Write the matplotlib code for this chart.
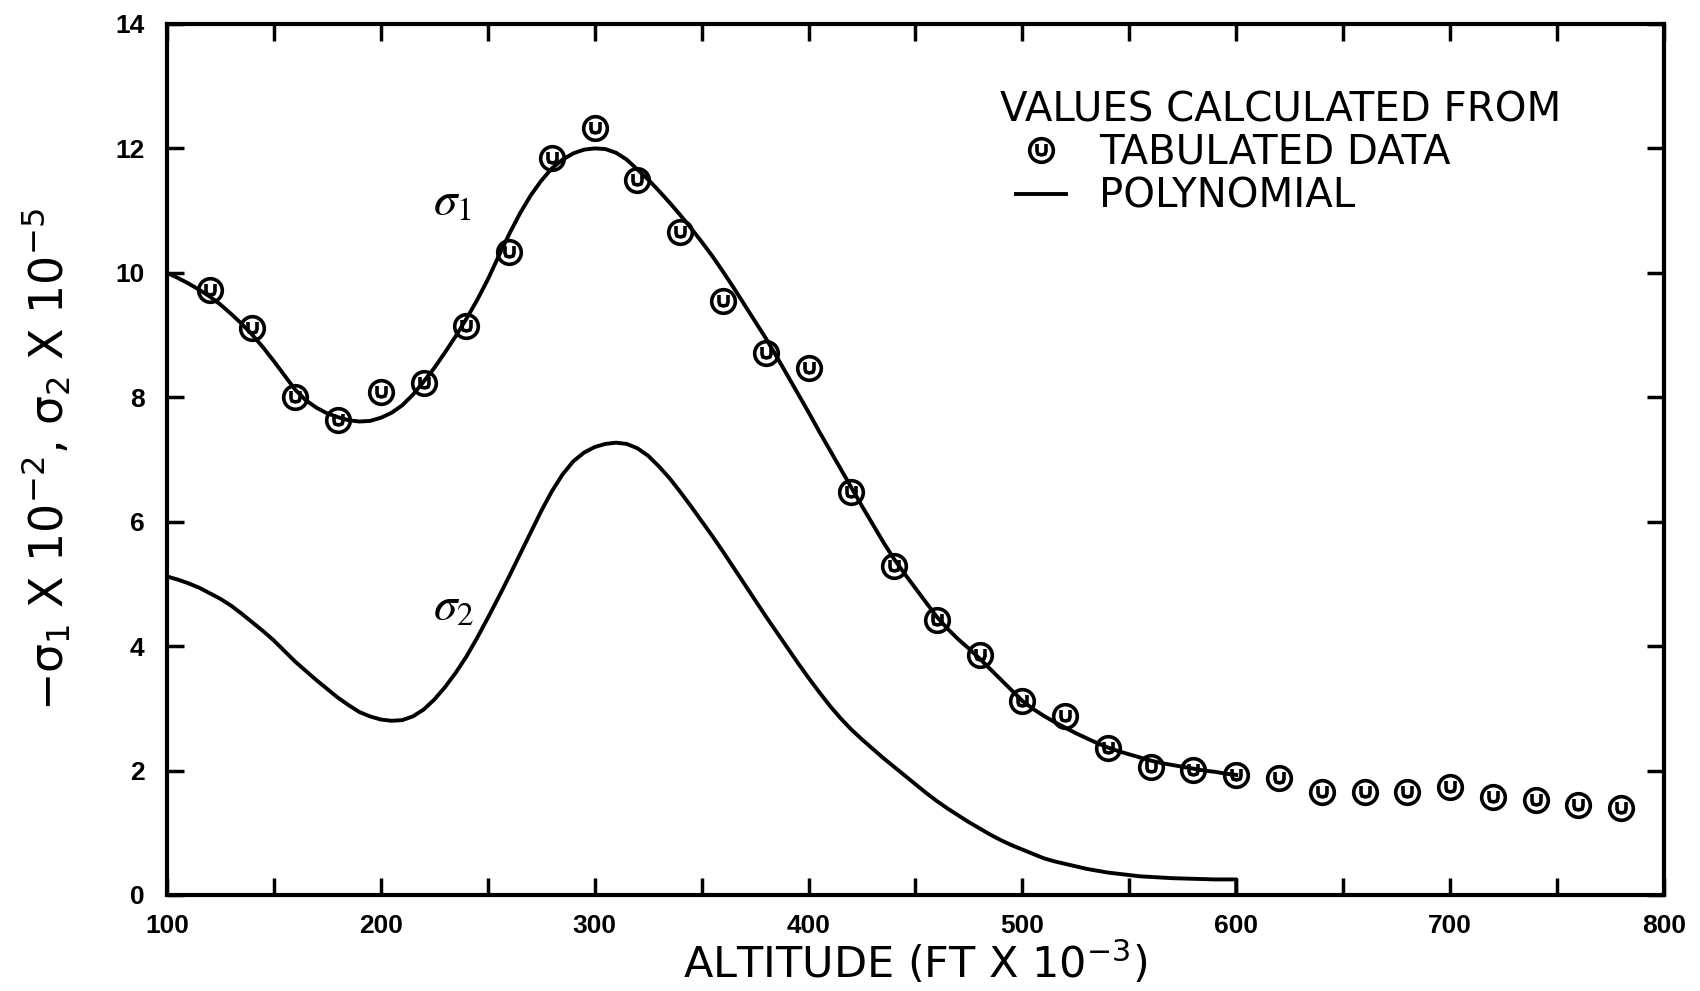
import matplotlib
matplotlib.use("Agg")
import matplotlib.pyplot as plt
from matplotlib.path import Path
from matplotlib.lines import Line2D
from matplotlib.ticker import MultipleLocator

plt.rcParams['font.family'] = ['DejaVu Sans']
plt.rcParams['mathtext.fontset'] = 'custom'
plt.rcParams['mathtext.rm'] = 'DejaVu Sans'
plt.rcParams['mathtext.it'] = 'DejaVu Sans'
plt.rcParams['mathtext.bf'] = 'DejaVu Sans:bold'

# Tabulated data (sigma_1), altitude in ft x 1e-3
tab_alt = [120, 140, 160, 180, 200, 220, 240, 260, 280, 300, 320, 340,
           360, 380, 400, 420, 440, 460, 480, 500, 520, 540, 560, 580,
           600, 620, 640, 660, 680, 700, 720, 740, 760, 780]
tab_sigma1 = [9.73, 9.11, 8.01, 7.64, 8.09, 8.23, 9.14, 10.34, 11.84, 12.33,
              11.50, 10.66, 9.54, 8.71, 8.47, 6.47, 5.28, 4.42, 3.86, 3.11,
              2.87, 2.36, 2.05, 2.01, 1.93, 1.88, 1.66, 1.66, 1.66, 1.73,
              1.58, 1.53, 1.45, 1.39]

# Polynomial curves, read every 5 units
poly_alt = [100, 105, 110, 115, 120, 125, 130, 135, 140, 145,
            150, 155, 160, 165, 170, 175, 180, 185, 190, 195,
            200, 205, 210, 215, 220, 225, 230, 235, 240, 245,
            250, 255, 260, 265, 270, 275, 280, 285, 290, 295,
            300, 305, 310, 315, 320, 325, 330, 335, 340, 345,
            350, 355, 360, 365, 370, 375, 380, 385, 390, 395,
            400, 405, 410, 415, 420, 425, 430, 435, 440, 445,
            450, 455, 460, 465, 470, 475, 480, 485, 490, 495,
            500, 505, 510, 515, 520, 525, 530, 535, 540, 545,
            550, 555, 560, 565, 570, 575, 580, 585, 590, 595, 600]
poly_sigma1 = [10.00, 9.92, 9.83, 9.73, 9.62, 9.49, 9.34, 9.18, 9.00, 8.80,
               8.58, 8.35, 8.12, 7.95, 7.83, 7.74, 7.68, 7.63, 7.61, 7.62,
               7.67, 7.75, 7.87, 8.04, 8.25, 8.47, 8.72, 8.98, 9.26, 9.56,
               9.89, 10.26, 10.62, 10.95, 11.24, 11.48, 11.68, 11.82, 11.92, 11.98,
               12.00, 11.99, 11.93, 11.82, 11.66, 11.50, 11.32, 11.13, 10.93, 10.72,
               10.50, 10.27, 10.02, 9.76, 9.49, 9.22, 8.95, 8.66, 8.36, 8.06,
               7.76, 7.45, 7.15, 6.85, 6.55, 6.25, 5.96, 5.67, 5.40, 5.16,
               4.93, 4.70, 4.47, 4.28, 4.11, 3.96, 3.80, 3.63, 3.46, 3.29,
               3.12, 2.99, 2.88, 2.78, 2.69, 2.60, 2.52, 2.44, 2.37, 2.31,
               2.26, 2.21, 2.16, 2.12, 2.09, 2.06, 2.03, 2.00, 1.98, 1.95, 1.93]
poly_sigma2 = [5.12, 5.07, 5.01, 4.94, 4.85, 4.76, 4.65, 4.52, 4.38, 4.24,
               4.09, 3.92, 3.75, 3.60, 3.45, 3.31, 3.17, 3.05, 2.94, 2.87,
               2.82, 2.80, 2.81, 2.87, 2.98, 3.14, 3.34, 3.57, 3.83, 4.13,
               4.45, 4.78, 5.12, 5.47, 5.82, 6.17, 6.49, 6.76, 6.97, 7.11,
               7.20, 7.25, 7.27, 7.25, 7.18, 7.06, 6.89, 6.70, 6.48, 6.25,
               6.01, 5.77, 5.52, 5.26, 5.00, 4.74, 4.48, 4.23, 3.98, 3.73,
               3.49, 3.26, 3.04, 2.84, 2.66, 2.50, 2.35, 2.20, 2.06, 1.92,
               1.78, 1.64, 1.51, 1.39, 1.28, 1.17, 1.07, 0.97, 0.88, 0.80,
               0.73, 0.66, 0.59, 0.54, 0.50, 0.46, 0.42, 0.39, 0.36, 0.34,
               0.32, 0.30, 0.29, 0.28, 0.27, 0.265, 0.26, 0.255, 0.25, 0.25, 0.25]
# sigma_2 curve drops to the axis at its last altitude
sigma2_end_alt = [600]
sigma2_end_val = [0.0]

x_ticks = [100, 200, 300, 400, 500, 600, 700, 800]
y_ticks = [0, 2, 4, 6, 8, 10, 12, 14]

# circle marker with a small "u" inside, like the plotter symbol
u_verts = [(-0.38, 0.55), (-0.38, -0.05), (-0.3, -0.3), (0.0, -0.38),
           (0.3, -0.3), (0.38, -0.05), (0.38, 0.55)]
u_path = Path(u_verts, [Path.MOVETO] + [Path.LINETO] * 6)
tab_marker = Path.make_compound_path(Path.unit_circle(), u_path)

fig = plt.figure(figsize=(17, 9.91), dpi=100)
ax = fig.add_axes([0.0982, 0.0969, 0.8806, 0.8789])

ax.plot(poly_alt, poly_sigma1, color='black', lw=2.8)
ax.plot(poly_alt + sigma2_end_alt, poly_sigma2 + sigma2_end_val,
        color='black', lw=2.8)
ax.plot(tab_alt, tab_sigma1, ls='none', marker=tab_marker, ms=17,
        mfc='none', mec='black', mew=2.6)

ax.set_xlim(100, 800)
ax.set_ylim(0, 14)
ax.set_xticks(x_ticks)
ax.set_yticks(y_ticks)
ax.xaxis.set_minor_locator(MultipleLocator(50))
ax.set_xticklabels([str(v) for v in x_ticks], fontsize=19, fontweight='bold',
                   family='Liberation Sans')
ax.set_yticklabels([str(v) for v in y_ticks], fontsize=19, fontweight='bold',
                   family='Liberation Sans')
ax.tick_params(which='both', direction='in', top=True, right=True,
               length=12, width=2.5)
ax.tick_params(axis='x', pad=14)
ax.tick_params(axis='y', pad=16)
for s in ax.spines.values():
    s.set_linewidth(3)

ax.set_xlabel(r'ALTITUDE (FT X 10$^{-3}$)', fontsize=31, labelpad=1)
ax.set_ylabel(r'$-\sigma_1$ X 10$^{-2}$, $\sigma_2$ X 10$^{-5}$', fontsize=33,
              labelpad=30)

ax.text(233.5, 11.13, r'$\sigma_1$', fontsize=34, ha='center', va='center',
        math_fontfamily='stix')
ax.text(234.0, 4.63, r'$\sigma_2$', fontsize=34, ha='center', va='center',
        math_fontfamily='stix')

# legend block
ax.text(0.5564, 0.901, 'VALUES CALCULATED FROM', transform=ax.transAxes,
        fontsize=29, ha='left', va='center')
handles = [
    Line2D([], [], ls='none', marker=tab_marker, ms=17, mfc='none',
           mec='black', mew=2.6),
    Line2D([], [], color='black', lw=2.8),
]
ax.legend(handles, ['TABULATED DATA', 'POLYNOMIAL'], loc='center left',
          bbox_to_anchor=(0.567, 0.827), frameon=False, fontsize=29,
          handlelength=1.25, handletextpad=0.82, labelspacing=0.1,
          borderpad=0, borderaxespad=0)

fig.savefig('out.png', dpi=100)
